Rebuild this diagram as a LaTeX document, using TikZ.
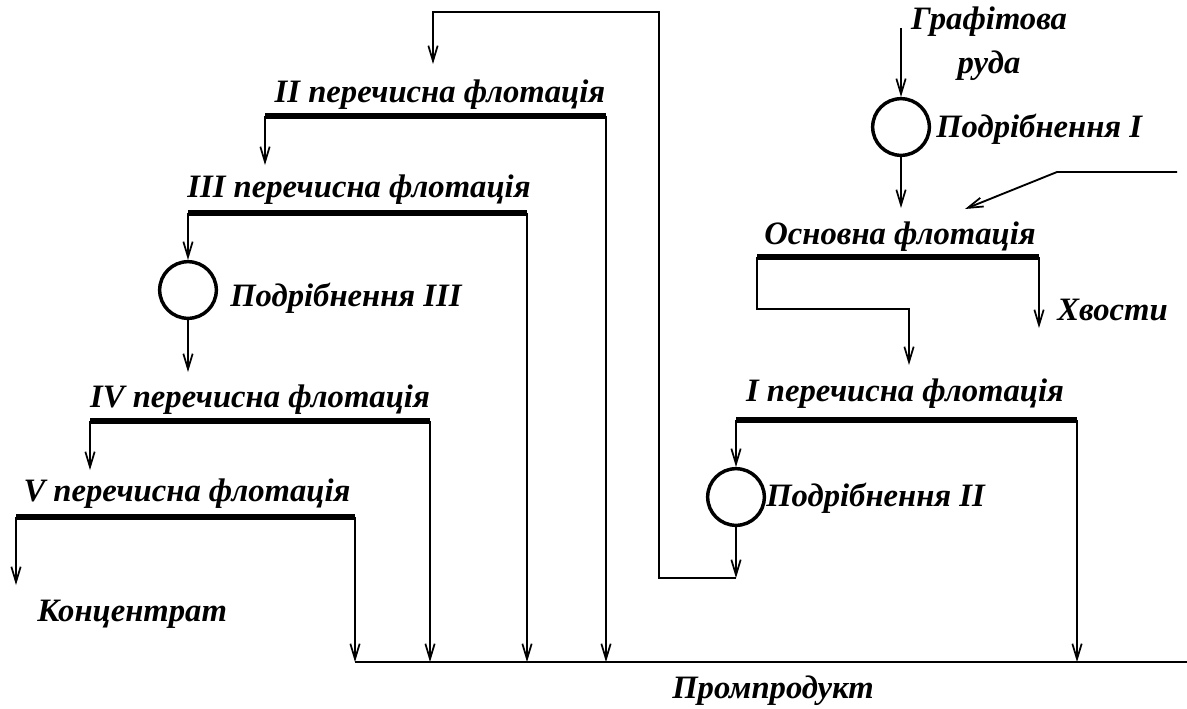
\documentclass[tikz,border=0pt]{standalone}
\usepackage{fontspec}
\setmainfont{Liberation Serif}
\usetikzlibrary{arrows.meta}
\begin{document}
\begin{tikzpicture}[x=0.75pt,y=-0.75pt,
  lbl/.style={font=\bfseries\itshape\fontsize{24.5}{26}\selectfont, inner sep=0pt},
  bar/.style={line width=5.2pt},
  flow/.style={line width=1.4pt},
  arr/.style={flow,-{Straight Barb[length=11.5pt,width=7pt,line width=1.3pt]}},
  mill/.style={circle,draw,line width=2.6pt,minimum size=42.5pt,inner sep=0pt}
]
\useasboundingbox (0,0) rectangle (1187,708);

% bar end coordinates
\coordinate (b2l) at (265,116); \coordinate (b2r) at (606,116);
\coordinate (b3l) at (188,213); \coordinate (b3r) at (527,213);
\coordinate (b4l) at (90,421);  \coordinate (b4r) at (430,421);
\coordinate (b5l) at (16,517);  \coordinate (b5r) at (355,517);
\coordinate (bol) at (757,257); \coordinate (bor) at (1039,257);
\coordinate (b1l) at (736,420); \coordinate (b1r) at (1077,420);

% bars
\foreach \a/\b in {b2l/b2r,b3l/b3r,b4l/b4r,b5l/b5r,bol/bor,b1l/b1r}
  \draw[bar] (\a) -- (\b);

% mills
\node[mill] (m1) at (901,127) {};
\node[mill] (m2) at (736,497) {};
\node[mill] (m3) at (188,290) {};

% labels
\node[lbl] (t2) at (440,95) {II перечисна флотація};
\node[lbl] (t3) at (359,190) {III перечисна флотація};
\node[lbl] (t4) at (260,400) {IV перечисна флотація};
\node[lbl] (t5) at (187,494) {V перечисна флотація};
\node[lbl] (t1) at (905,394) {I перечисна флотація};
\node[lbl] (to) at (900,237) {Основна флотація};
\node[lbl,align=center] (ore) at (989,44) {Графітова\\[7pt]руда};
\node[lbl,anchor=west] (l1) at (936,129) {Подрібнення I};
\node[lbl,anchor=west] (l2) at (766,498) {Подрібнення II};
\node[lbl,anchor=west] (l3) at (230,298) {Подрібнення III};
\node[lbl,anchor=west] (tail) at (1057,310) {Хвости};
\node[lbl,anchor=west] (conc) at (37,614) {Концентрат};
\node[lbl] (mid) at (773,691) {Промпродукт};

% bottom collector
\coordinate (pl) at (355,662);
\coordinate (pr) at (1187,662);
\draw[flow] (pl) -- (pr);

% connectors
\coordinate (ore0) at (901,28);
\draw[arr] (ore0) -- (m1.north);
\draw[arr] (m1.south) -- (901,208);
\coordinate (feed) at (1177,172);
\draw[arr] (feed) -- (1057,172) -- (965,209);
\draw[arr] (bol) -- (757,309) -- (909,309) -- (909,365);
\draw[arr] (bor) -- (1039,328);
\draw[arr] (b1l) -- (m2.north);
\draw[arr] (b1r) -- (1077,662);
\draw[arr] (m2.south) -- (736,578) coordinate (j2);
\draw[arr] (j2) -- (659,578) -- (659,12) -- (433,12) -- (433,64);
\draw[arr] (b2l) -- (265,165);
\draw[arr] (b2r) -- (606,662);
\draw[arr] (b3l) -- (m3.north);
\draw[arr] (b3r) -- (527,662);
\draw[arr] (m3.south) -- (188,372);
\draw[arr] (b4l) -- (90,470);
\draw[arr] (b4r) -- (430,662);
\draw[arr] (b5l) -- (16,585);
\draw[arr] (b5r) -- (355,662);
\end{tikzpicture}
\end{document}
